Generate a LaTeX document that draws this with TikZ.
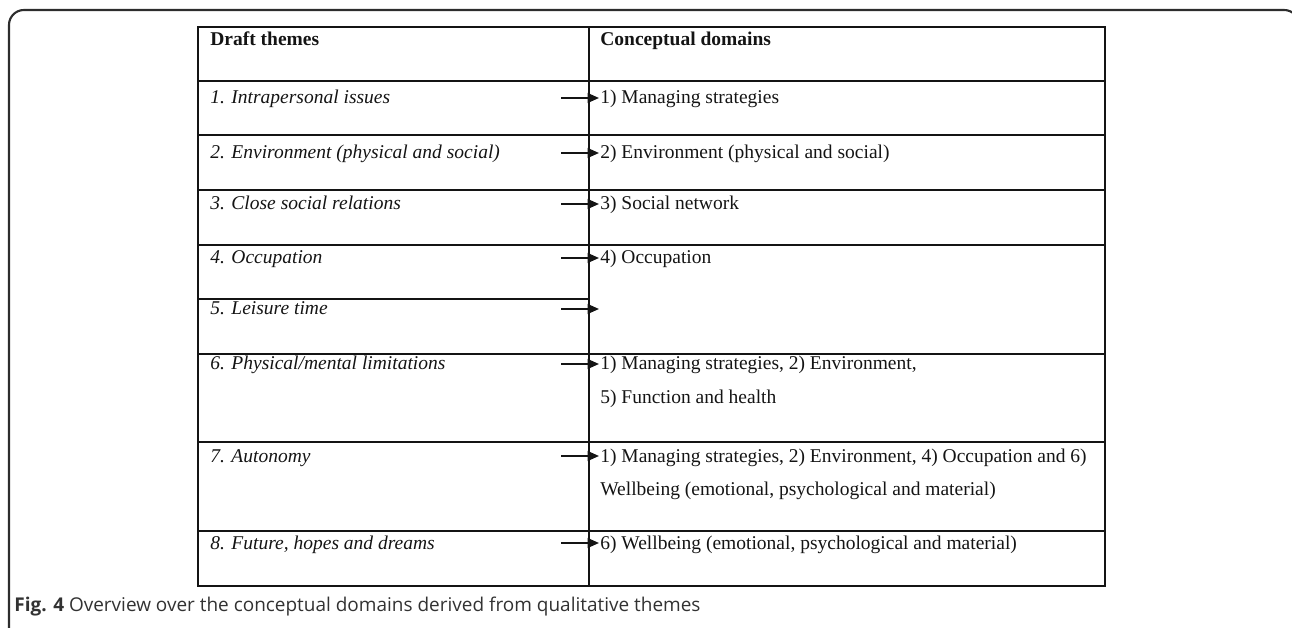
\documentclass[tikz,border=0pt]{standalone}
\usepackage{fontspec}
\setmainfont{Liberation Serif}
\newfontfamily\capfont{Open Sans}
\usetikzlibrary{
    arrows.meta,
    positioning
}
\definecolor{frameGray}{RGB}{45, 45, 45}
\definecolor{textBlack}{RGB}{20, 20, 20}
\definecolor{capGray}{RGB}{50, 50, 50}
\def\picW{1292}
\def\picH{628}
\def\colA{198}
\def\colB{589}
\def\colC{1105}
\def\tabTop{27}
\def\tabBot{586}
\tikzset{
    frame/.style={
        draw=frameGray,
        line width=1.2pt,
        rounded corners=8.5pt
    },
    rule/.style={
        draw=textBlack,
        line width=0.75pt
    },
    cell/.style={
        anchor=base west,
        inner sep=0pt,
        text=textBlack,
        font=\fontsize{11.1}{13}\selectfont
    },
    headCell/.style={
        cell,
        font=\fontsize{11.1}{13}\selectfont\bfseries
    },
    themeCell/.style={
        cell,
        font=\fontsize{11.1}{13}\selectfont\itshape
    },
    conceptCell/.style={
        cell
    },
    link/.style={
        draw=textBlack,
        line width=1.1pt,
        -{Triangle[length=6.5pt, width=5.5pt]}
    },
    caption/.style={
        anchor=base west,
        inner sep=0pt,
        text=capGray,
        font=\capfont\fontsize{10.8}{13}\selectfont
    }
}

\begin{document}
\begin{tikzpicture}[x=0.02cm, y=-0.02cm]
    \useasboundingbox (0,0) rectangle (\picW, \picH);

    % Outer frame, open at the bottom, right side runs off the page
    \draw[frame] (9, 660) -- (9, 10) -- (1299, 10) -- (1299, 660);

    % Table grid
    \draw[rule] (\colA, \tabTop) rectangle (\colC, \tabBot);
    \draw[rule] (\colB, \tabTop) -- (\colB, \tabBot);
    \foreach \y in {81, 135, 190, 245, 354, 442, 531}
        \draw[rule] (\colA, \y) -- (\colC, \y);
    \draw[rule] (\colA, 299) -- (\colB, 299);

    % Header
    \node[headCell] (hTheme) at (210, 46) {Draft themes};
    \node[headCell] (hConcept) at (600, 46) {Conceptual domains};

    % Draft themes
    \node[themeCell] (t1) at (210, 104) {1. Intrapersonal issues};
    \node[themeCell] (t2) at (210, 159) {2. Environment (physical and social)};
    \node[themeCell] (t3) at (210, 210) {3. Close social relations};
    \node[themeCell] (t4) at (210, 264) {4. Occupation};
    \node[themeCell] (t5) at (210, 315) {5. Leisure time};
    \node[themeCell] (t6) at (210, 370) {6. Physical/mental limitations};
    \node[themeCell] (t7) at (210, 462) {7. Autonomy};
    \node[themeCell] (t8) at (210, 549) {8. Future, hopes and dreams};

    % Conceptual domains
    \node[conceptCell] (c1) at (600, 104) {1) Managing strategies};
    \node[conceptCell] (c2) at (600, 159) {2) Environment (physical and social)};
    \node[conceptCell] (c3) at (600, 210) {3) Social network};
    \node[conceptCell] (c4) at (600, 264) {4) Occupation};
    \node[conceptCell] (c6) at (600, 370) {1) Managing strategies, 2) Environment,};
    \node[conceptCell] (c6b) at (600, 403) {5) Function and health};
    \node[conceptCell] (c7) at (600, 462) {1) Managing strategies, 2) Environment, 4) Occupation and 6)};
    \node[conceptCell] (c7b) at (600, 495) {Wellbeing (emotional, psychological and material)};
    \node[conceptCell] (c8) at (600, 549) {6) Wellbeing (emotional, psychological and material)};

    % Arrows from themes to domains
    \foreach \i/\y in {1/98, 2/153, 3/204, 4/258, 5/309, 6/364, 7/456, 8/543} {
        \coordinate (s\i) at (561, \y);
        \coordinate (e\i) at (599, \y);
        \draw[link] (s\i) -- (e\i);
    }

    \node[caption] (cap) at (14, 611) {\textbf{Fig. 4} Overview over the conceptual domains derived from qualitative themes};
\end{tikzpicture}
\end{document}
